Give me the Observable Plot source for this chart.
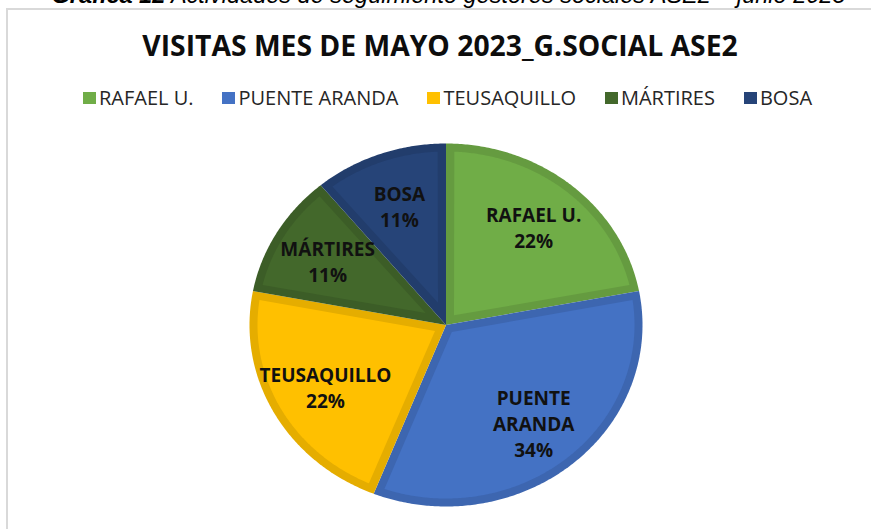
<!DOCTYPE html>
<html>
<head>
<meta charset="utf-8">
<script src="https://cdn.jsdelivr.net/npm/d3@7"></script>
<script src="https://cdn.jsdelivr.net/npm/@observablehq/plot@0.6"></script>
<style>
  html, body { margin: 0; padding: 0; background: #fff; overflow: hidden; }
  #page { position: relative; width: 871px; height: 529px; overflow: hidden; }
  #page > svg { position: absolute; left: 0; top: 0; }
  #frame { position: absolute; left: 6px; top: 8px; width: 900px; height: 560px;
           border: 2px solid #d9d9d9; box-sizing: border-box; }
  #caption { position: absolute; left: 0; width: 897px; top: -16.5px; text-align: center;
             font-family: "Liberation Sans", Arial, sans-serif; font-style: italic;
             font-size: 23.5px; line-height: 23.5px; color: #000; white-space: nowrap; }
  #title { position: absolute; left: 0; width: 880px; top: 30.5px; text-align: center;
           font-family: "Open Sans", sans-serif; font-weight: 700; font-size: 28.3px;
           line-height: 28px; color: #0d0d0d; white-space: nowrap; }
  #legend { position: absolute; left: 0; width: 895px; top: 88px; }
  .lg-swatches-wrap { display: flex !important; justify-content: center; align-items: center;
                      min-height: 0 !important; margin: 0 !important;
                      font-family: "Open Sans", sans-serif !important; font-size: 20px !important;
                      line-height: 20px; color: #262626; }
  .lg-swatch { margin-right: 29px !important; white-space: nowrap; }
  .lg-swatch:last-child { margin-right: 0 !important; }
  .lg-swatch > svg { margin-right: 3px !important; }
</style>
</head>
<body>
<div id="page">
  <div id="frame"></div>
  <div id="caption"><b>Gráfica 12</b> Actividades de seguimiento gestores sociales ASE2 – junio 2023</div>
  <div id="title">VISITAS MES DE MAYO 2023_G.SOCIAL ASE2</div>
  <div id="legend"></div>
</div>
<script>
// ---- data ----
const names = ["RAFAEL U.", "PUENTE ARANDA", "TEUSAQUILLO", "MÁRTIRES", "BOSA"];
const values = [22, 34, 22, 11, 11];
const pieLabels = ["RAFAEL U.", "PUENTE\nARANDA", "TEUSAQUILLO", "MÁRTIRES", "BOSA"];
const colors = ["#70AD47", "#4472C4", "#FFC000", "#43682B", "#264478"];

// ---- layout ----
const W = 871, H = 529;
const mL = 249, mR = 229, mT = 143, mB = 23;
const Rx = (W - mL - mR) / 2, Ry = (H - mT - mB) / 2;
const inset = 8;          // width of the darker inner border band (px)
const labelR = 0.7;       // label distance from the centre (fraction of radius)

const total = d3.sum(values);
const arcs = d3.pie().sort(null).value(d => d)(values);
const borderOf = new Map(names.map((n, i) => [n, d3.rgb(colors[i]).darker(0.3).formatHex()]));

const outer = [], inner = [], labels = [];
arcs.forEach((a, i) => {
  const name = names[i];
  const a0 = a.startAngle, a1 = a.endAngle;
  // full wedge
  outer.push({name, x: 0, y: 0});
  const n = Math.max(8, Math.ceil((a1 - a0) / 0.01));
  for (let k = 0; k <= n; ++k) {
    const t = a0 + (a1 - a0) * k / n;
    outer.push({name, x: Math.sin(t), y: Math.cos(t)});
  }
  // inset wedge (computed in pixel space, converted back to unit space)
  const m = (a0 + a1) / 2, h = (a1 - a0) / 2;
  const o = inset / Math.sin(Math.min(h, Math.PI / 2));
  inner.push({name, x: o * Math.sin(m) / Rx, y: o * Math.cos(m) / Ry});
  const rxI = Rx - inset, ryI = Ry - inset;
  const d = inset / ((Rx + Ry) / 2 - inset);
  const b0 = a0 + d, b1 = a1 - d;
  for (let k = 0; k <= n; ++k) {
    const t = b0 + (b1 - b0) * k / n;
    inner.push({name, x: rxI * Math.sin(t) / Rx, y: ryI * Math.cos(t) / Ry});
  }
  labels.push({
    name,
    x: labelR * Math.sin(m),
    y: labelR * Math.cos(m),
    text: pieLabels[i] + "\n" + Math.round(values[i] / total * 100) + "%"
  });
});

const chart = Plot.plot({
  width: W, height: H,
  marginLeft: mL, marginRight: mR, marginTop: mT, marginBottom: mB,
  x: {domain: [-1, 1], axis: null},
  y: {domain: [-1, 1], axis: null},
  color: {domain: names, range: colors},
  style: {fontFamily: "Open Sans, sans-serif", background: "transparent", overflow: "visible"},
  marks: [
    Plot.line(outer, {x: "x", y: "y", z: "name", fill: d => borderOf.get(d.name), stroke: "none"}),
    Plot.line(inner, {x: "x", y: "y", z: "name", fill: "name", stroke: "none"}),
    Plot.text(labels, {x: "x", y: "y", text: "text", fontSize: 19, fontWeight: "bold",
                       lineHeight: 1.37, lineAnchor: "middle", fill: "#111"})
  ]
});
document.getElementById("page").insertBefore(chart, document.getElementById("frame").nextSibling);

const legend = Plot.legend({
  color: {domain: names, range: colors},
  className: "lg",
  swatchWidth: 13,
  swatchHeight: 12
});
document.getElementById("legend").appendChild(legend);
</script>
</body>
</html>
